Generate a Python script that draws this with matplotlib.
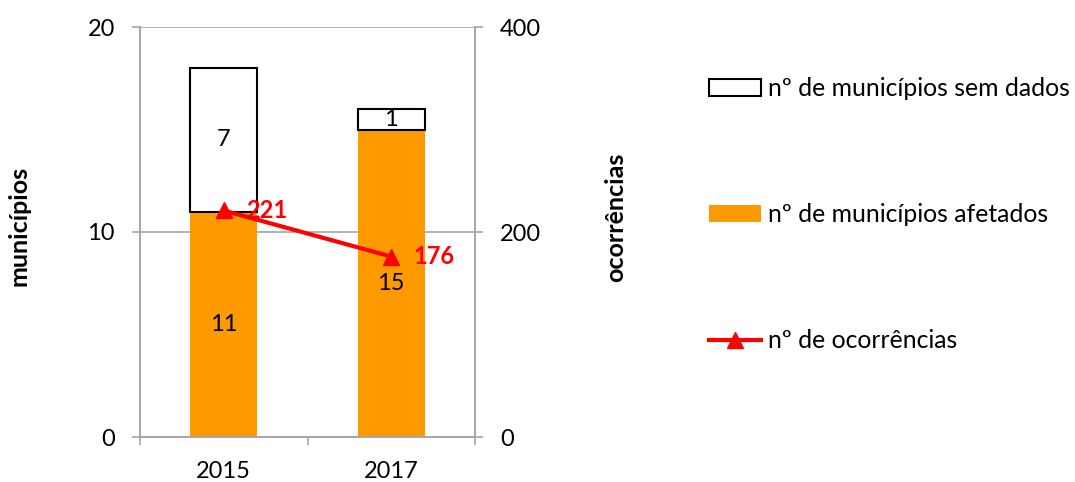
import matplotlib.pyplot as plt
import numpy as np

anos = ["2015", "2017"]
afetados = [11, 15]
sem_dados = [7, 1]
ocorrencias = [221, 176]

plt.rcParams['font.family'] = ['Lato', 'DejaVu Sans']
cinza = '#a6a6a6'
laranja = '#ff9900'

W, H = 1075, 482
fig = plt.figure(figsize=(W / 100, H / 100), dpi=100)
ax = fig.add_axes([140 / W, 1 - 437 / H, 335 / W, 410 / H])
ax2 = ax.twinx()

x = np.arange(len(anos))
w = 0.4
b1 = ax.bar(x, afetados, w, color=laranja, label='nº de municípios afetados', zorder=2)
b2 = ax.bar(x, sem_dados, w, bottom=afetados, facecolor='white', edgecolor='black',
            linewidth=1.5, label='nº de municípios sem dados', zorder=2)

for i in range(len(anos)):
    ax.text(x[i], afetados[i] / 2, str(afetados[i]), ha='center', va='center', fontsize=17, zorder=3)
    ax.text(x[i], afetados[i] + sem_dados[i] / 2, str(sem_dados[i]), ha='center', va='center',
            fontsize=17, zorder=3)

ln, = ax2.plot(x, ocorrencias, color='red', lw=3, marker='^', ms=11, label='nº de ocorrências')
for i in range(len(anos)):
    ax2.annotate(str(ocorrencias[i]), (x[i], ocorrencias[i]), xytext=(16, 0),
                 textcoords='offset points', color='red', fontweight='bold', fontsize=17,
                 ha='left', va='center')

ax.set_xlim(-0.5, 1.5)
ax.set_ylim(0, 20)
ax.set_yticks([0, 10, 20])
ax2.set_ylim(0, 400)
ax2.set_yticks([0, 200, 400])
ax.set_xticks(x)
ax.set_xticklabels(anos)
ax.set_xticks([-0.5, 0.5, 1.5], minor=True)
ax.tick_params(axis='x', which='major', length=0, labelsize=17, pad=17)
ax.tick_params(axis='x', which='minor', length=6, color=cinza, width=1.2)
ax.tick_params(axis='y', length=6, color=cinza, width=1.2, labelsize=17, pad=12)
ax2.tick_params(axis='y', length=6, color=cinza, width=1.2, labelsize=17, pad=12)
ax.yaxis.grid(True, color=cinza, lw=1.2, zorder=0)
ax.set_axisbelow(True)

for a in (ax, ax2):
    a.spines['top'].set_visible(False)
    for s in ('left', 'right', 'bottom'):
        a.spines[s].set_color(cinza)
        a.spines[s].set_linewidth(1.2)

fig.text(19.5 / W, 1 - 226 / H, 'municípios', rotation=90, ha='center', va='center',
         fontsize=18, fontweight='bold')
fig.text(616 / W, 1 - 217 / H, 'ocorrências', rotation=90, ha='center', va='center',
         fontsize=18, fontweight='bold')

fig.legend([b2, b1, ln], ['nº de municípios sem dados', 'nº de municípios afetados', 'nº de ocorrências'],
           loc='upper left', bbox_to_anchor=(709 / W, 1 - 77 / H), frameon=False, fontsize=17.8,
           labelspacing=4.17, handlelength=2.1, handletextpad=0.3, borderpad=0, borderaxespad=0)

fig.savefig('out.png', dpi=100)
